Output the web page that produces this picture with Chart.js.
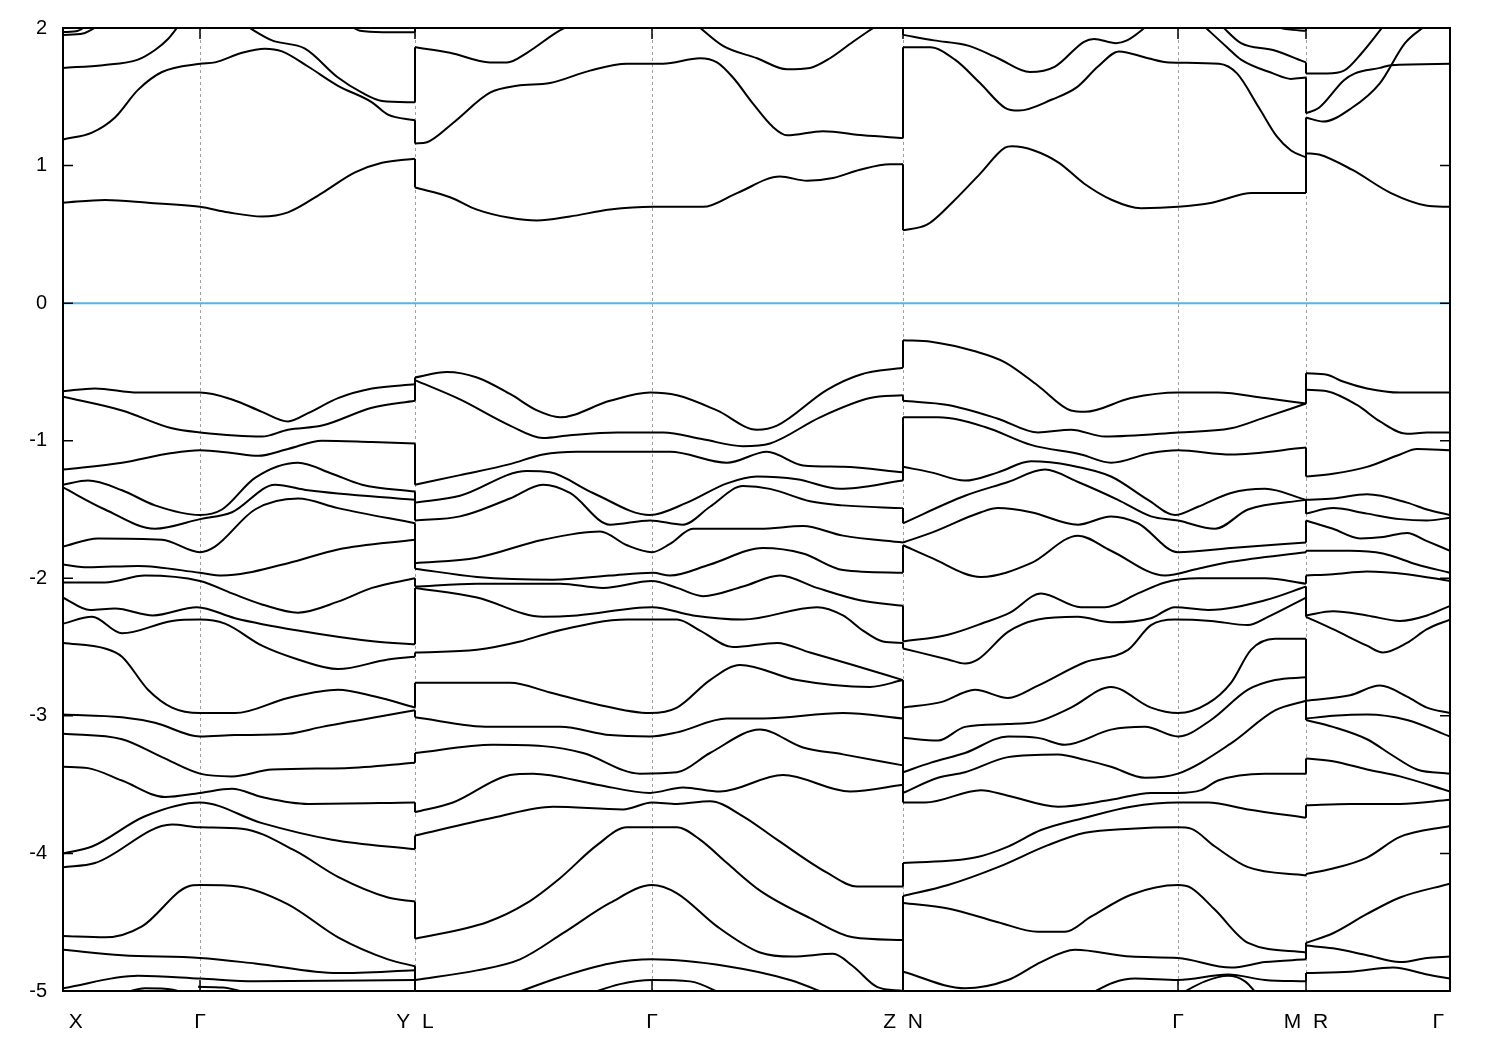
<!DOCTYPE html>
<html>
<head>
<meta charset="utf-8">
<script src="https://cdn.jsdelivr.net/npm/chart.js@4.4.1/dist/chart.umd.min.js"></script>
<style>
html,body{margin:0;padding:0;background:#fff}
#wrap{width:1500px;height:1050px}
</style>
</head>
<body>
<div id="wrap"><canvas id="bands"></canvas></div>
<script>
// high-symmetry path (k distance) and labels
const kPoints = [0, 137, 352, 589, 840, 1115, 1243, 1387];
const kLabels = [' X', 'Γ', 'Y  L', 'Γ', 'Z  N', 'Γ', 'M  R', 'Γ '];
const yTicks = [2, 1, 0, -1, -2, -3, -4, -5];
const fermi = 0;

// bands, [k, E] per curve, one array per path piece
const bandsXGY = [
  [[0,1.97],[15,1.98],[26,2.03]],
  [[0,1.95],[20,1.96],[36,2.02]],
  [[0,1.71],[40,1.73],[75,1.77],[92,1.84],[105,1.92],[117,2.03]],
  [[0,1.19],[29,1.24],[52,1.35],[75,1.55],[99,1.68],[137,1.74],[152,1.75],[179,1.82],[202,1.85],[219,1.83],[245,1.72],[275,1.58],[309,1.46],[325,1.37],[352,1.33]],
  [[182,2.02],[209,1.91],[242,1.85],[275,1.64],[299,1.53],[319,1.47],[352,1.46]],
  [[285,2.03],[297,1.98],[320,1.97],[352,1.97]],
  [[0,0.73],[42,0.75],[85,0.73],[137,0.70],[165,0.66],[199,0.63],[225,0.66],[259,0.80],[292,0.95],[319,1.02],[352,1.05]],
  [[0,-0.64],[32,-0.62],[75,-0.65],[137,-0.65],[169,-0.70],[199,-0.79],[225,-0.86],[245,-0.80],[275,-0.69],[309,-0.62],[352,-0.59]],
  [[0,-0.68],[59,-0.78],[109,-0.91],[137,-0.94],[199,-0.97],[225,-0.92],[259,-0.89],[309,-0.76],[352,-0.71]],
  [[0,-1.21],[59,-1.16],[109,-1.09],[137,-1.07],[169,-1.09],[195,-1.11],[225,-1.06],[259,-1.00],[309,-1.01],[352,-1.02]],
  [[0,-1.32],[25,-1.29],[59,-1.36],[92,-1.47],[137,-1.54],[159,-1.50],[192,-1.27],[235,-1.16],[269,-1.24],[299,-1.32],[352,-1.37]],
  [[0,-1.34],[42,-1.50],[92,-1.64],[137,-1.57],[169,-1.52],[212,-1.32],[245,-1.36],[352,-1.43]],
  [[0,-1.77],[35,-1.71],[99,-1.72],[137,-1.81],[152,-1.77],[192,-1.50],[235,-1.42],[275,-1.49],[352,-1.60]],
  [[0,-1.90],[25,-1.92],[75,-1.91],[137,-1.96],[159,-1.98],[225,-1.89],[275,-1.79],[352,-1.72]],
  [[0,-2.03],[42,-2.03],[82,-1.98],[137,-2.02],[169,-2.11],[199,-2.19],[235,-2.25],[275,-2.17],[309,-2.07],[352,-2.00]],
  [[0,-2.14],[27,-2.23],[52,-2.22],[90,-2.27],[134,-2.21],[172,-2.29],[235,-2.38],[312,-2.46],[352,-2.48]],
  [[0,-2.33],[29,-2.28],[59,-2.40],[109,-2.31],[137,-2.30],[162,-2.33],[199,-2.49],[235,-2.59],[275,-2.66],[325,-2.59],[352,-2.57]],
  [[0,-2.47],[42,-2.51],[59,-2.57],[85,-2.81],[109,-2.94],[137,-2.98],[172,-2.98],[225,-2.87],[275,-2.81],[312,-2.86],[352,-2.94]],
  [[0,-2.99],[59,-3.01],[92,-3.05],[137,-3.15],[172,-3.14],[225,-3.13],[259,-3.08],[352,-2.96]],
  [[0,-3.13],[59,-3.17],[99,-3.30],[137,-3.42],[169,-3.44],[209,-3.39],[282,-3.38],[352,-3.34]],
  [[0,-3.37],[25,-3.38],[59,-3.47],[102,-3.59],[137,-3.56],[169,-3.53],[199,-3.59],[245,-3.64],[352,-3.63]],
  [[0,-4.00],[29,-3.95],[82,-3.73],[137,-3.63],[199,-3.78],[269,-3.90],[352,-3.97]],
  [[0,-4.10],[32,-4.07],[109,-3.79],[137,-3.81],[179,-3.82],[232,-3.98],[275,-4.17],[325,-4.32],[352,-4.35]],
  [[0,-4.60],[42,-4.61],[79,-4.53],[125,-4.24],[137,-4.23],[175,-4.24],[225,-4.37],[275,-4.61],[325,-4.77],[352,-4.82]],
  [[0,-4.70],[59,-4.74],[137,-4.76],[192,-4.80],[275,-4.87],[352,-4.85]],
  [[0,-4.98],[75,-4.89],[137,-4.91],[192,-4.93],[352,-4.92]],
  [[55,-5.03],[82,-4.98],[110,-4.99],[125,-5.03]],
  [[135,-4.97],[160,-4.975],[192,-5.03]]
];

const bandsLGZ = [
  [[352,1.86],[387,1.82],[427,1.75],[444,1.75],[464,1.82],[494,1.97],[507,2.02]],
  [[352,1.16],[364,1.17],[390,1.31],[427,1.53],[454,1.58],[487,1.60],[527,1.69],[564,1.74],[600,1.74],[637,1.78],[654,1.75],[670,1.64],[690,1.45],[710,1.28],[724,1.22],[760,1.25],[800,1.22],[840,1.20]],
  [[634,2.02],[660,1.87],[694,1.78],[724,1.70],[747,1.71],[767,1.78],[790,1.90],[814,2.02]],
  [[352,0.84],[387,0.77],[414,0.68],[447,0.62],[474,0.60],[507,0.63],[547,0.68],[590,0.70],[640,0.70],[674,0.80],[717,0.92],[744,0.89],[770,0.91],[797,0.97],[827,1.01],[840,1.01]],
  [[352,-0.54],[384,-0.50],[414,-0.54],[447,-0.66],[474,-0.78],[497,-0.83],[547,-0.71],[587,-0.65],[614,-0.67],[654,-0.78],[694,-0.92],[714,-0.89],[764,-0.63],[797,-0.52],[840,-0.47]],
  [[352,-0.56],[397,-0.70],[447,-0.89],[480,-0.98],[507,-0.96],[554,-0.94],[600,-0.94],[640,-0.99],[680,-1.04],[707,-1.02],[757,-0.83],[807,-0.69],[840,-0.67]],
  [[352,-1.32],[397,-1.25],[447,-1.17],[480,-1.10],[514,-1.08],[607,-1.08],[664,-1.16],[704,-1.08],[740,-1.18],[780,-1.19],[840,-1.23]],
  [[352,-1.45],[397,-1.40],[464,-1.22],[487,-1.23],[530,-1.38],[587,-1.54],[624,-1.45],[664,-1.31],[694,-1.26],[734,-1.28],[777,-1.35],[840,-1.29]],
  [[352,-1.58],[397,-1.55],[447,-1.42],[480,-1.32],[507,-1.38],[547,-1.61],[587,-1.58],[620,-1.61],[647,-1.48],[680,-1.33],[707,-1.35],[747,-1.44],[780,-1.47],[840,-1.49]],
  [[352,-1.89],[414,-1.85],[480,-1.72],[537,-1.66],[564,-1.76],[589,-1.81],[607,-1.75],[630,-1.64],[697,-1.64],[740,-1.62],[780,-1.69],[840,-1.74]],
  [[352,-1.93],[414,-1.99],[490,-2.01],[547,-1.98],[590,-1.96],[607,-1.98],[647,-1.90],[700,-1.78],[740,-1.82],[780,-1.94],[840,-1.96]],
  [[352,-2.06],[414,-2.04],[497,-2.04],[540,-2.07],[589,-2.02],[614,-2.07],[640,-2.13],[680,-2.06],[717,-1.98],[754,-2.07],[797,-2.16],[840,-2.20]],
  [[352,-2.07],[414,-2.14],[480,-2.28],[514,-2.27],[589,-2.21],[630,-2.27],[680,-2.30],[754,-2.21],[780,-2.27],[800,-2.38],[820,-2.46],[840,-2.47]],
  [[352,-2.54],[414,-2.52],[457,-2.46],[490,-2.39],[564,-2.30],[614,-2.30],[637,-2.38],[670,-2.50],[714,-2.47],[747,-2.54],[790,-2.63],[840,-2.74]],
  [[352,-2.76],[447,-2.76],[487,-2.83],[530,-2.91],[587,-2.98],[614,-2.94],[647,-2.74],[677,-2.63],[734,-2.74],[807,-2.79],[840,-2.74]],
  [[352,-3.01],[427,-3.08],[497,-3.08],[547,-3.14],[587,-3.15],[614,-3.12],[664,-3.02],[700,-3.02],[780,-2.98],[840,-3.02]],
  [[352,-3.27],[430,-3.21],[480,-3.22],[520,-3.27],[577,-3.42],[614,-3.41],[647,-3.27],[697,-3.10],[740,-3.23],[780,-3.28],[840,-3.36]],
  [[352,-3.70],[390,-3.63],[447,-3.43],[470,-3.42],[534,-3.50],[587,-3.56],[620,-3.52],[657,-3.55],[720,-3.43],[787,-3.55],[840,-3.50]],
  [[352,-3.87],[430,-3.74],[490,-3.66],[560,-3.68],[589,-3.63],[614,-3.64],[647,-3.62],[680,-3.73],[714,-3.90],[764,-4.14],[794,-4.24],[840,-4.24]],
  [[352,-4.62],[424,-4.50],[464,-4.36],[497,-4.18],[534,-3.94],[564,-3.81],[614,-3.81],[637,-3.90],[664,-4.07],[697,-4.27],[747,-4.47],[790,-4.61],[840,-4.63]],
  [[352,-4.92],[414,-4.85],[457,-4.77],[500,-4.58],[547,-4.36],[589,-4.23],[614,-4.29],[654,-4.53],[697,-4.72],[730,-4.75],[770,-4.73],[790,-4.82],[814,-4.97],[840,-5.00]],
  [[447,-5.03],[497,-4.90],[547,-4.80],[589,-4.77],[664,-4.82],[727,-4.92],[767,-5.03]],
  [[522,-5.03],[557,-4.95],[589,-4.92],[627,-4.93],[662,-5.03]]
];

const bandsNGM = [
  [[840,1.95],[871,1.91],[906,1.87],[935,1.78],[967,1.68],[992,1.72],[1021,1.90],[1031,1.92],[1053,1.89],[1064,1.91],[1085,2.02]],
  [[840,1.86],[867,1.86],[892,1.77],[917,1.60],[942,1.42],[956,1.40],[989,1.48],[1014,1.57],[1035,1.72],[1056,1.83],[1085,1.78],[1106,1.75],[1156,1.74],[1174,1.67],[1196,1.42],[1214,1.21],[1228,1.11],[1243,1.06]],
  [[1140,2.02],[1164,1.86],[1178,1.77],[1210,1.67],[1228,1.63],[1243,1.64]],
  [[1158,2.02],[1178,1.89],[1210,1.84],[1243,1.75]],
  [[1205,2.02],[1225,1.99],[1243,1.98]],
  [[840,0.53],[864,0.57],[889,0.73],[917,0.94],[942,1.13],[949,1.14],[971,1.11],[996,1.02],[1021,0.87],[1049,0.75],[1078,0.69],[1115,0.70],[1149,0.73],[1189,0.80],[1243,0.80]],
  [[840,-0.27],[868,-0.28],[912,-0.35],[942,-0.43],[975,-0.60],[1008,-0.78],[1022,-0.79],[1068,-0.69],[1115,-0.65],[1155,-0.65],[1202,-0.69],[1243,-0.73]],
  [[840,-0.71],[885,-0.74],[935,-0.84],[975,-0.94],[1008,-0.92],[1042,-0.97],[1115,-0.94],[1168,-0.91],[1202,-0.83],[1243,-0.73]],
  [[840,-0.83],[875,-0.83],[922,-0.90],[968,-1.03],[1018,-1.10],[1048,-1.16],[1088,-1.09],[1115,-1.07],[1168,-1.10],[1243,-1.05]],
  [[840,-1.19],[868,-1.23],[902,-1.29],[935,-1.23],[968,-1.15],[1008,-1.18],[1048,-1.26],[1085,-1.43],[1112,-1.54],[1135,-1.48],[1168,-1.38],[1202,-1.35],[1243,-1.43]],
  [[840,-1.60],[902,-1.40],[945,-1.30],[982,-1.21],[1015,-1.30],[1055,-1.43],[1088,-1.55],[1115,-1.58],[1152,-1.64],[1185,-1.50],[1243,-1.43]],
  [[840,-1.74],[868,-1.67],[918,-1.52],[935,-1.49],[968,-1.52],[1015,-1.61],[1048,-1.55],[1075,-1.60],[1115,-1.81],[1168,-1.78],[1243,-1.74]],
  [[840,-1.76],[868,-1.85],[918,-1.99],[968,-1.89],[1015,-1.69],[1048,-1.80],[1102,-1.98],[1135,-1.93],[1168,-1.88],[1243,-1.81]],
  [[840,-2.46],[885,-2.41],[922,-2.32],[947,-2.25],[978,-2.11],[1018,-2.21],[1042,-2.21],[1075,-2.11],[1102,-2.03],[1135,-2.00],[1202,-2.00],[1243,-2.04]],
  [[840,-2.51],[885,-2.59],[902,-2.62],[915,-2.59],[945,-2.39],[975,-2.30],[1015,-2.28],[1048,-2.32],[1088,-2.29],[1112,-2.21],[1145,-2.23],[1202,-2.16],[1243,-2.06]],
  [[840,-2.94],[878,-2.90],[912,-2.81],[945,-2.87],[975,-2.78],[1022,-2.61],[1065,-2.52],[1088,-2.34],[1112,-2.30],[1148,-2.31],[1185,-2.34],[1205,-2.28],[1243,-2.14]],
  [[840,-3.16],[875,-3.18],[902,-3.08],[945,-3.06],[975,-3.04],[1008,-2.94],[1048,-2.79],[1088,-2.94],[1115,-2.98],[1145,-2.91],[1168,-2.76],[1188,-2.52],[1212,-2.44],[1243,-2.44]],
  [[840,-3.41],[868,-3.34],[902,-3.27],[945,-3.15],[975,-3.16],[1002,-3.21],[1048,-3.10],[1082,-3.08],[1115,-3.15],[1148,-3.03],[1185,-2.81],[1212,-2.74],[1243,-2.72]],
  [[840,-3.56],[875,-3.45],[902,-3.41],[945,-3.30],[995,-3.28],[1022,-3.32],[1048,-3.37],[1082,-3.45],[1115,-3.42],[1168,-3.20],[1212,-2.96],[1243,-2.89]],
  [[840,-3.63],[862,-3.63],[918,-3.54],[945,-3.58],[995,-3.66],[1048,-3.61],[1088,-3.56],[1115,-3.56],[1138,-3.54],[1155,-3.47],[1202,-3.42],[1243,-3.42]],
  [[840,-4.07],[912,-4.03],[945,-3.95],[978,-3.83],[1022,-3.74],[1068,-3.66],[1115,-3.63],[1145,-3.63],[1185,-3.68],[1243,-3.74]],
  [[840,-4.31],[885,-4.23],[935,-4.10],[985,-3.94],[1022,-3.85],[1068,-3.82],[1115,-3.81],[1128,-3.82],[1152,-3.95],[1185,-4.10],[1243,-4.16]],
  [[840,-4.36],[885,-4.40],[935,-4.50],[975,-4.57],[1002,-4.57],[1028,-4.46],[1068,-4.30],[1115,-4.23],[1128,-4.25],[1152,-4.41],[1185,-4.65],[1243,-4.72]],
  [[840,-4.86],[902,-4.98],[945,-4.92],[978,-4.79],[1012,-4.70],[1068,-4.75],[1115,-4.76],[1168,-4.83],[1202,-4.79],[1243,-4.77]],
  [[1025,-5.03],[1050,-4.94],[1072,-4.91],[1115,-4.92],[1165,-4.88],[1202,-4.92],[1243,-4.93]],
  [[1115,-5.03],[1142,-4.93],[1165,-4.89],[1182,-4.93],[1195,-5.03]]
];

const bandsRG = [
  [[1243,1.67],[1264,1.67],[1281,1.69],[1299,1.82],[1321,2.02]],
  [[1243,1.38],[1256,1.42],[1281,1.62],[1292,1.67],[1317,1.71],[1328,1.73],[1387,1.74]],
  [[1243,1.35],[1260,1.32],[1289,1.42],[1317,1.60],[1342,1.89],[1363,2.02]],
  [[1243,1.09],[1256,1.08],[1289,0.97],[1328,0.80],[1363,0.71],[1387,0.70]],
  [[1243,-0.51],[1264,-0.52],[1280,-0.57],[1304,-0.62],[1337,-0.65],[1387,-0.65]],
  [[1243,-0.63],[1264,-0.64],[1294,-0.74],[1317,-0.86],[1344,-0.95],[1364,-0.94],[1387,-0.94]],
  [[1243,-1.26],[1270,-1.24],[1304,-1.19],[1337,-1.10],[1354,-1.06],[1387,-1.07]],
  [[1243,-1.43],[1270,-1.42],[1304,-1.39],[1344,-1.45],[1364,-1.50],[1387,-1.54]],
  [[1243,-1.53],[1270,-1.49],[1304,-1.53],[1337,-1.57],[1364,-1.58],[1387,-1.56]],
  [[1243,-1.58],[1270,-1.64],[1297,-1.71],[1320,-1.70],[1344,-1.67],[1364,-1.73],[1387,-1.80]],
  [[1243,-1.80],[1287,-1.80],[1320,-1.82],[1354,-1.90],[1387,-1.96]],
  [[1243,-1.98],[1270,-1.97],[1304,-1.95],[1344,-1.97],[1387,-2.02]],
  [[1243,-2.27],[1270,-2.24],[1304,-2.27],[1337,-2.31],[1364,-2.27],[1387,-2.20]],
  [[1243,-2.28],[1270,-2.37],[1304,-2.49],[1320,-2.54],[1344,-2.47],[1364,-2.37],[1387,-2.30]],
  [[1243,-2.89],[1287,-2.85],[1317,-2.78],[1344,-2.86],[1364,-2.94],[1387,-2.98]],
  [[1243,-3.02],[1270,-3.00],[1304,-2.99],[1344,-3.03],[1387,-3.15]],
  [[1243,-3.03],[1270,-3.08],[1304,-3.17],[1330,-3.29],[1354,-3.39],[1387,-3.42]],
  [[1243,-3.31],[1270,-3.33],[1304,-3.39],[1337,-3.44],[1387,-3.55]],
  [[1243,-3.65],[1287,-3.64],[1337,-3.64],[1387,-3.61]],
  [[1243,-4.15],[1270,-4.11],[1304,-4.03],[1337,-3.88],[1387,-3.80]],
  [[1243,-4.65],[1270,-4.58],[1304,-4.44],[1337,-4.32],[1387,-4.22]],
  [[1243,-4.67],[1270,-4.69],[1304,-4.74],[1337,-4.79],[1364,-4.76],[1387,-4.75]],
  [[1243,-4.87],[1287,-4.86],[1330,-4.83],[1364,-4.88],[1387,-4.91]]
];

const pieces = [bandsXGY, bandsLGZ, bandsNGM, bandsRG];
const breaks = [352, 840, 1243];

// vertical jumps at the path breaks: band n on the left joins band n on the right,
// counted outward from the gap
function jumps(left, right, k){
  const ends = left.filter(b => b[b.length-1][0] === k).map(b => b[b.length-1][1]);
  const starts = right.filter(b => b[0][0] === k).map(b => b[0][1]);
  const out = [];
  const pair = (a, b, dir, edge) => {
    a.sort((p,q) => dir*(p-q)); b.sort((p,q) => dir*(p-q));
    for(let i=0;i<Math.max(a.length,b.length);i++) out.push([[k, a[i] ?? edge],[k, b[i] ?? edge]]);
  };
  pair(ends.filter(v=>v>0), starts.filter(v=>v>0), 1, 2.1);
  pair(ends.filter(v=>v<0), starts.filter(v=>v<0), -1, -5.1);
  return out;
}

const asLine = (pts, extra) => Object.assign({
  data: pts.map(([x,y]) => ({x,y})),
  borderColor:'#000', borderWidth:2, pointRadius:0, fill:false,
  cubicInterpolationMode:'monotone'
}, extra||{});

const datasets = [asLine([[0,fermi],[1387,fermi]], {borderColor:'#56b4e9', borderWidth:2})];
pieces.forEach(p => p.forEach(b => datasets.push(asLine(b))));
breaks.forEach((k,i) => jumps(pieces[i], pieces[i+1], k).forEach(s => datasets.push(asLine(s, {cubicInterpolationMode:'default', tension:0}))));

// gnuplot-ish frame: dashed k-point lines, inward ticks, box
const frame = {
  id:'frame',
  beforeDatasetsDraw(chart){
    const {ctx, chartArea:a, scales:{x}} = chart;
    ctx.save();
    ctx.strokeStyle='#a0a0a0'; ctx.lineWidth=1; ctx.setLineDash([3,3]);
    kPoints.slice(1,-1).forEach(k => {
      const px = Math.round(x.getPixelForValue(k)) + 0.5;
      ctx.beginPath(); ctx.moveTo(px,a.top); ctx.lineTo(px,a.bottom); ctx.stroke();
    });
    ctx.restore();
  },
  afterDatasetsDraw(chart){
    const {ctx, chartArea:a, scales:{x,y}} = chart;
    ctx.save();
    ctx.strokeStyle='#000'; ctx.lineWidth=1.5;
    yTicks.forEach(v => {
      const py = y.getPixelForValue(v);
      ctx.beginPath();
      ctx.moveTo(a.left,py); ctx.lineTo(a.left+10,py);
      ctx.moveTo(a.right,py); ctx.lineTo(a.right-10,py);
      ctx.stroke();
    });
    kPoints.forEach(k => {
      const px = x.getPixelForValue(k);
      ctx.beginPath();
      ctx.moveTo(px,a.bottom); ctx.lineTo(px,a.bottom-11);
      ctx.moveTo(px,a.top); ctx.lineTo(px,a.top+11);
      ctx.stroke();
    });
    ctx.lineWidth=2;
    ctx.strokeRect(a.left, a.top, a.right-a.left, a.bottom-a.top);
    ctx.restore();
  }
};

new Chart(document.getElementById('bands'), {
  type:'line',
  data:{datasets},
  plugins:[frame],
  options:{
    responsive:true, maintainAspectRatio:false, animation:false,
    layout:{padding:{top:28, right:50, left:0, bottom:0}},
    plugins:{legend:{display:false}, tooltip:{enabled:false}},
    scales:{
      x:{
        type:'linear', min:0, max:1387,
        grid:{display:false, drawTicks:false}, border:{display:false},
        afterBuildTicks: ax => { ax.ticks = kPoints.map(v => ({value:v})); },
        afterFit: ax => { ax.height = 59; },
        ticks:{autoSkip:false, maxRotation:0, align:'inner', padding:19, color:'#000',
               font:{family:'Liberation Sans', size:21},
               callback: v => kLabels[kPoints.indexOf(v)]}
      },
      y:{
        min:-5, max:2,
        grid:{display:false, drawTicks:false}, border:{display:false},
        afterFit: ax => { ax.width = 63; },
        ticks:{stepSize:1, padding:16, color:'#000', font:{family:'Liberation Sans', size:20}}
      }
    }
  }
});
</script>
</body>
</html>
